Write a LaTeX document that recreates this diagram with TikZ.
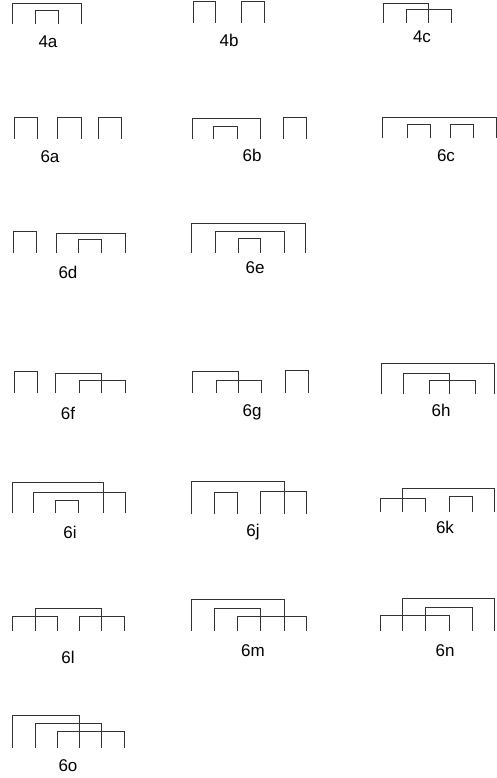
\documentclass[tikz,border=0pt]{standalone}
\usepackage{fontspec}
\setmainfont{Liberation Sans}
\tikzset{
  chord/.style={draw=black!80, line width=0.8pt},
  lbl/.style={font=\fontsize{17}{20}\selectfont, inner sep=0pt}
}
\newcommand{\ch}[4]{\draw[chord] (#1,#4) |- (#2,#3) -- (#2,#4);}
\begin{document}
\begin{tikzpicture}[x=1pt,y=-1pt]
\useasboundingbox (0,0) rectangle (497,778);
% 4a
\ch{12}{81}{3}{24}\ch{35}{58}{10}{24}
\node[lbl] (l4a) at (48,42) {4a};
% 4b
\ch{193}{215}{1}{23}\ch{241}{264}{1}{23}
\node[lbl] (l4b) at (229,40) {4b};
% 4c
\ch{383}{428}{3}{23}\ch{406}{451}{9}{23}
\node[lbl] (l4c) at (422,37) {4c};
% 6a
\ch{14}{37}{117}{139}\ch{57}{81}{117}{139}\ch{98}{121}{117}{139}
\node[lbl] (l6a) at (50,157) {6a};
% 6b
\ch{192}{260}{118}{139}\ch{213}{237}{126}{139}\ch{283}{306}{117}{139}
\node[lbl] (l6b) at (252,155) {6b};
% 6c
\ch{382}{496}{117}{138}\ch{407}{430}{124}{138}\ch{450}{473}{124}{138}
\node[lbl] (l6c) at (446,156) {6c};
% 6d
\ch{13}{36}{231}{253}\ch{56}{125}{233}{253}\ch{78}{101}{239}{253}
\node[lbl] (l6d) at (68,272) {6d};
% 6e
\ch{191}{305}{223}{253}\ch{215}{284}{231}{253}\ch{238}{260}{238}{253}
\node[lbl] (l6e) at (255,268) {6e};
% 6f
\ch{14}{37}{371}{393}\ch{55}{101}{373}{393}\ch{79}{125}{380}{393}
\node[lbl] (l6f) at (68,413) {6f};
% 6g
\ch{192}{238}{371}{393}\ch{216}{261}{380}{393}\ch{285}{308}{370}{393}
\node[lbl] (l6g) at (252,412) {6g};
% 6h
\ch{381}{494}{363}{394}\ch{403}{449}{373}{394}\ch{429}{475}{380}{394}
\node[lbl] (l6h) at (441,410) {6h};
% 6i
\ch{12}{103}{482}{513}\ch{33}{125}{492}{513}\ch{55}{78}{500}{513}
\node[lbl] (l6i) at (70,532) {6i};
% 6j
\ch{191}{284}{481}{514}\ch{214}{237}{492}{514}\ch{260}{306}{491}{514}
\node[lbl] (l6j) at (253,532) {6j};
% 6k
\ch{402}{494}{488}{512}\ch{380}{425}{498}{512}\ch{449}{472}{496}{512}
\node[lbl] (l6k) at (445,527) {6k};
% 6l
\ch{35}{101}{608}{631}\ch{12}{57}{616}{631}\ch{79}{124}{616}{631}
\node[lbl] (l6l) at (68,657) {6l};
% 6m
\ch{191}{284}{599}{631}\ch{214}{260}{608}{631}\ch{237}{306}{616}{631}
\node[lbl] (l6m) at (253,651) {6m};
% 6n
\ch{402}{494}{598}{631}\ch{425}{472}{607}{631}\ch{380}{449}{615}{631}
\node[lbl] (l6n) at (445,651) {6n};
% 6o
\ch{12}{79}{715}{748}\ch{35}{101}{723}{748}\ch{57}{124}{731}{748}
\node[lbl] (l6o) at (68,766) {6o};
\end{tikzpicture}
\end{document}
